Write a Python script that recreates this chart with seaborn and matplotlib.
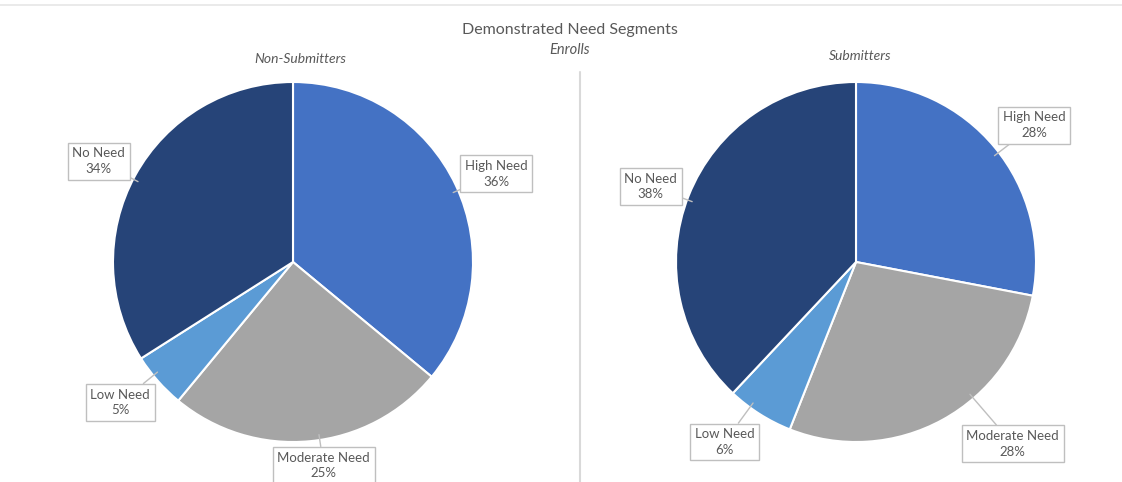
import matplotlib.pyplot as plt
import numpy as np
import seaborn as sns
from matplotlib.lines import Line2D

sns.set_theme(style='white')
plt.rcParams['font.family'] = ['Lato', 'DejaVu Sans']

# Data
segments = ['High Need', 'Moderate Need', 'Low Need', 'No Need']
non_submitters = [36, 25, 5, 34]
submitters = [28, 28, 6, 38]
colors = ['#4472C4', '#A5A5A5', '#5B9BD5', '#264478']

# label positions (in pie radius units, relative to centre)
left_label_pos = [(1.13, 0.49), (0.17, -1.13), (-0.96, -0.78), (-1.08, 0.56)]
right_label_pos = [(0.99, 0.76), (0.87, -1.01), (-0.73, -1.0), (-1.14, 0.42)]

W, H = 1122, 482
fig = plt.figure(figsize=(W / 100, H / 100), dpi=100)
text_col = '#595959'


def pie_axes(cx, cy, r):
    return fig.add_axes([(cx - r) / W, (H - cy - r) / H, 2 * r / W, 2 * r / H])


def draw_pie(ax, values, label_pos):
    wedges, _ = ax.pie(values, colors=colors, startangle=90, counterclock=False,
                       radius=1, wedgeprops=dict(edgecolor='white', linewidth=1.5))
    ax.set_xlim(-1, 1)
    ax.set_ylim(-1, 1)
    ax.set_aspect('equal')
    ax.axis('off')
    for w, name, v, (lx, ly) in zip(wedges, segments, values, label_pos):
        ang = np.degrees(np.arctan2(ly, lx)) % 360
        t1, t2 = w.theta1 % 360, w.theta2 % 360
        # clamp the pointer angle inside the wedge
        lo, hi = w.theta1, w.theta2
        a = ang
        while a < lo:
            a += 360
        while a > lo + 360:
            a -= 360
        if a > hi:
            a = lo + 3 if (a - hi) > (lo + 360 - a) else hi - 3
        tx, ty = 0.97 * np.cos(np.radians(a)), 0.97 * np.sin(np.radians(a))
        ax.annotate(f'{name}\n{v}%', xy=(tx, ty), xytext=(lx, ly),
                    ha='center', va='center', fontsize=9.5, color=text_col,
                    linespacing=1.35, annotation_clip=False,
                    bbox=dict(boxstyle='square,pad=0.35', fc='white',
                              ec='#BFBFBF', lw=1),
                    arrowprops=dict(arrowstyle='-', color='#BFBFBF', lw=1,
                                    shrinkA=0, shrinkB=0))


ax1 = pie_axes(293, 262, 180)
draw_pie(ax1, non_submitters, left_label_pos)
ax2 = pie_axes(856, 262, 180)
draw_pie(ax2, submitters, right_label_pos)

fig.text(570 / W, 1 - 30 / H, 'Demonstrated Need Segments', ha='center',
         va='center', fontsize=11.5, color=text_col)
fig.text(570 / W, 1 - 50 / H, 'Enrolls', ha='center', va='center',
         fontsize=10.5, style='italic', color=text_col)
fig.text(300 / W, 1 - 59 / H, 'Non-Submitters', ha='center', va='center',
         fontsize=10, style='italic', color=text_col)
fig.text(860 / W, 1 - 56 / H, 'Submitters', ha='center', va='center',
         fontsize=10, style='italic', color=text_col)

# frame details
fig.add_artist(Line2D([0, 1], [1 - 5 / H, 1 - 5 / H], color='#E6E6E6', lw=1.2))
fig.add_artist(Line2D([580 / W, 580 / W], [0, 1 - 72 / H], color='#D9D9D9', lw=1.5))

fig.savefig('out.png', dpi=100)
